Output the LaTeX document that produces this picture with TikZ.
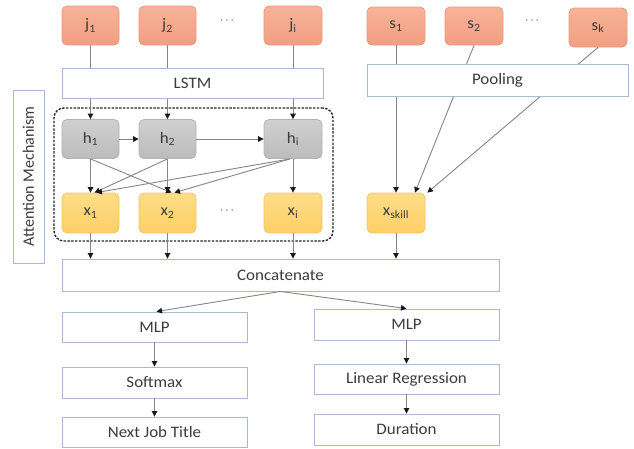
\documentclass[tikz,border=0pt]{standalone}
\usepackage{fontspec}
\setmainfont{Carlito}[FakeStretch=1.06]
\newfontfamily\vertfont{Carlito}
\usetikzlibrary{arrows.meta,calc}

\definecolor{txt}{HTML}{3C3C3C}
\definecolor{boxline}{HTML}{A9BBD1}
\definecolor{linecol}{HTML}{858585}
\definecolor{orangetop}{HTML}{F7B397}
\definecolor{orangebot}{HTML}{F29E82}
\definecolor{orangeline}{HTML}{E89A80}
\definecolor{graytop}{HTML}{D0D0D0}
\definecolor{graybot}{HTML}{BCBCBC}
\definecolor{grayline}{HTML}{B2B2B2}
\definecolor{yeltop}{HTML}{FFDD88}
\definecolor{yelbot}{HTML}{FDCF68}
\definecolor{yelline}{HTML}{F2C866}

\tikzset{
  lbl/.style={font=\fontsize{16}{18}\selectfont, text=txt},
  flatbox/.style={lbl, draw=boxline, fill=white, line width=0.9pt, inner sep=0pt},
  cell/.style={lbl, rounded corners=5pt, line width=0.8pt, inner sep=0pt,
    minimum width=57pt, minimum height=39pt},
  inbox/.style={cell, top color=orangetop, bottom color=orangebot, draw=orangeline},
  hidbox/.style={cell, top color=graytop, bottom color=graybot, draw=grayline},
  featbox/.style={cell, top color=yeltop, bottom color=yelbot, draw=yelline, minimum height=40pt},
  link/.style={draw=linecol, line width=0.9pt},
  arr/.style={link, -{Triangle[width=5.5pt,length=5.5pt,color=black!90]}},
  dotsym/.style={text=txt, font=\fontsize{12}{14}\selectfont},
  dashbox/.style={draw=black!85, line width=1.4pt, dash pattern=on 2.4pt off 1.4pt,
    rounded corners=10pt, inner sep=0pt},
}

\begin{document}
\begin{tikzpicture}[x=1pt,y=-1pt]
  \useasboundingbox (0,0) rectangle (634,448);

  % job inputs
  \node[inbox] (j1) at (90.5,25.5) {j\textsubscript{1}};
  \node[inbox] (j2) at (167.5,25.5) {j\textsubscript{2}};
  \node[inbox, minimum width=58pt] (ji) at (293,25.5) {j\textsubscript{i}};
  \node[dotsym] (jdots) at (227,21) {$\cdots$};

  % skill inputs
  \node[inbox, minimum width=58pt, minimum height=38pt] (s1) at (396,26) {s\textsubscript{1}};
  \node[inbox, minimum width=58pt, minimum height=38pt] (s2) at (474,26) {s\textsubscript{2}};
  \node[inbox, minimum width=58pt, minimum height=39pt] (sk) at (598,27.5) {s\textsubscript{k}};
  \node[dotsym] (sdots) at (532,21) {$\cdots$};

  % attention frame and its label
  \node[dashbox, minimum width=279pt, minimum height=133pt] (frame) at (193.5,174.5) {};
  \node[flatbox, rotate=90, minimum width=173pt, minimum height=31pt,
        font=\vertfont\fontsize{16}{18}\selectfont] (attlbl) at (28.5,176.5) {Attention Mechanism};

  % hidden states
  \node[hidbox] (h1) at (90.5,139) {h\textsubscript{1}};
  \node[hidbox] (h2) at (167.5,139) {h\textsubscript{2}};
  \node[hidbox, minimum width=58pt] (hi) at (293,139) {h\textsubscript{i}};

  % attended features
  \node[featbox] (x1) at (90.5,213) {x\textsubscript{1}};
  \node[featbox] (x2) at (167.5,213) {x\textsubscript{2}};
  \node[featbox, minimum width=58pt] (xi) at (293,213) {x\textsubscript{i}};
  \node[dotsym] (xdots) at (227,211) {$\cdots$};
  \node[featbox, minimum width=58pt] (xs) at (396,213) {x\textsubscript{skill}};

  % inputs through the encoders (boxes are drawn over these lines)
  \draw[arr] (j1.south) -- (h1.north);
  \draw[arr] (j2.south) -- (h2.north);
  \draw[arr] (ji.south) -- (hi.north);
  \draw[arr] (s1.south) -- (xs.north);
  \draw[arr] (s2.south) -- ($(xs.north)+(19,0)$);
  \draw[arr] (sk.south) -- ($(xs.north east)+(2,0)$);

  \node[flatbox, minimum width=261pt, minimum height=30pt] (lstm) at (192.5,83) {LSTM};
  \node[flatbox, minimum width=261pt, minimum height=32pt] (pool) at (497.5,80) {Pooling};

  % recurrence
  \draw[arr] (h1.east) -- (h2.west);
  \draw[arr] (h2.east) -- (hi.west);

  % attention links
  \draw[arr] (h1.south) -- (x1.north);
  \draw[arr] (h2.south) -- (x2.north);
  \draw[arr] (hi.south) -- (xi.north);
  \draw[arr] (h1.south) -- ($(x2.north)+(4,0)$);
  \draw[arr] (h2.south) -- ($(x1.north)+(4,0)$);
  \draw[arr] ($(hi.south)+(-3,0)$) -- ($(x1.north)+(6,0)$);
  \draw[arr] ($(hi.south)+(-3,0)$) -- ($(x2.north)+(7,0)$);

  % output heads
  \node[flatbox, minimum width=437pt, minimum height=32pt] (cat) at (280.5,275) {Concatenate};
  \node[flatbox, minimum width=185pt, minimum height=30pt] (mlpl) at (154.5,327) {MLP};
  \node[flatbox, minimum width=185pt, minimum height=31pt] (mlpr) at (406.5,324.5) {MLP};
  \node[flatbox, minimum width=185pt, minimum height=31pt] (soft) at (154.5,382.5) {Softmax};
  \node[flatbox, minimum width=185pt, minimum height=30pt] (linreg) at (406.5,379) {Linear Regression};
  \node[flatbox, minimum width=185pt, minimum height=30pt] (next) at (154.5,432) {Next Job Title};
  \node[flatbox, minimum width=185pt, minimum height=31pt] (dur) at (406.5,429.5) {Duration};

  \draw[arr] (x1.south) -- (x1.south |- cat.north);
  \draw[arr] (x2.south) -- (x2.south |- cat.north);
  \draw[arr] (xi.south) -- (xi.south |- cat.north);
  \draw[arr] (xs.south) -- (xs.south |- cat.north);

  \draw[arr] (cat.south) -- ($(mlpl.north)+(2,0)$);
  \draw[arr] (cat.south) -- (mlpr.north);
  \draw[arr] (mlpl.south) -- (soft.north);
  \draw[arr] (soft.south) -- (next.north);
  \draw[arr] (mlpr.south) -- (linreg.north);
  \draw[arr] (linreg.south) -- (dur.north);
\end{tikzpicture}
\end{document}
